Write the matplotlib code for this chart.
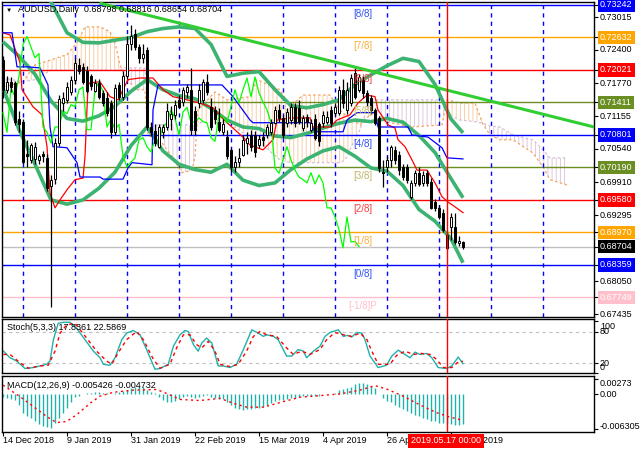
import numpy as np
import matplotlib.pyplot as plt

plt.rcParams['font.family'] = ['Liberation Sans', 'DejaVu Sans']
FS = 6.5

# ---- daily candles, bar 0 = 14 Dec 2018, bar 115 = last bar ----
opens = [.7220, .7165, .7180, .7178, .7110, .7105, .7045, .7033, .7035, .7033,
         .7045, .7037, .6985, .6998, .7065, .7140, .7145, .7160, .7184, .7212,
         .7208, .7200, .7190, .7163, .7178, .7158, .7150, .7140, .7085, .7174,
         .7152, .7190, .7250, .7270, .7245, .7225, .7240, .7095, .7088, .7057,
         .7085, .7095, .7110, .7118, .7146, .7142, .7160, .7165, .7125, .7140,
         .7146, .7180, .7133, .7127, .7105, .7085, .7076, .7052, .7020, .7029,
         .7043, .7065, .7080, .7080, .7062, .7076, .7080, .7086, .7103, .7127,
         .7111, .7103, .7108, .7133, .7130, .7093, .7113, .7090, .7110, .7100,
         .7103, .7105, .7127, .7122, .7122, .7165, .7127, .7140, .7197, .7165,
         .7184, .7159, .7150, .7127, .7112, .7010, .7020, .7033, .7052, .7043,
         .7020, .7020, .6964, .6990, .7009, .6990, .7009, .6992, .6954, .6943,
         .6934, .6892, .6907, .6907, .6877, .68798]
highs = [.7228, .7190, .7188, .7182, .7125, .7110, .7070, .7065, .7066, .7045,
         .7050, .7045, .7005, .7075, .7155, .7160, .7180, .7190, .7225, .7225,
         .7215, .7210, .7195, .7185, .7185, .7165, .7160, .7145, .7175, .7180,
         .7200, .7265, .7287, .7280, .7250, .7250, .7245, .7105, .7100, .7100,
         .7100, .7140, .7135, .7145, .7155, .7170, .7175, .7206, .7135, .7175,
         .7185, .7195, .7150, .7135, .7130, .7110, .7090, .7056, .7040, .7055,
         .7080, .7085, .7090, .7088, .7080, .7085, .7100, .7110, .7135, .7138,
         .7118, .7130, .7140, .7140, .7145, .7118, .7120, .7110, .7120, .7105,
         .7125, .7125, .7135, .7140, .7172, .7185, .7180, .7195, .7208, .7195,
         .7190, .7165, .7155, .7130, .7115, .7033, .7040, .7062, .7060, .7050,
         .7025, .7025, .6995, .7015, .7020, .7012, .7015, .7000, .6960, .6948,
         .6940, .6900, .6934, .6934, .6890, .68816]
lows = [.7150, .7158, .7160, .7098, .7085, .7025, .7020, .7028, .7025, .7025,
        .7030, .6975, .6757, .6988, .7060, .7125, .7140, .7155, .7175, .7195,
        .7175, .7158, .7165, .7160, .7148, .7135, .7115, .7075, .7080, .7145,
        .7145, .7185, .7240, .7240, .7215, .7215, .7090, .7078, .7060, .7055,
        .7075, .7090, .7090, .7110, .7130, .7135, .7150, .7080, .7080, .7130,
        .7140, .7155, .7090, .7100, .7085, .7080, .7035, .7011, .7010, .7020,
        .7040, .7045, .7050, .7039, .7055, .7060, .7075, .7080, .7100, .7105,
        .7075, .7095, .7100, .7095, .7100, .7088, .7095, .7085, .7070, .7060,
        .7095, .7100, .7095, .7115, .7118, .7130, .7120, .7135, .7148, .7160,
        .7150, .7135, .7120, .7098, .7010, .6982, .7010, .7020, .7025, .7005,
        .6995, .6990, .6960, .6985, .6985, .6985, .6985, .6940, .6938, .6922,
        .6898, .6864, .6883, .6875, .6872, .68654]
closes = [.7165, .7180, .7170, .7105, .7100, .7030, .7040, .7061, .7058, .7040,
          .7040, .6981, .6995, .7065, .7148, .7150, .7170, .7184, .7215, .7200,
          .7180, .7162, .7172, .7178, .7152, .7140, .7122, .7085, .7168, .7152,
          .7190, .7250, .7265, .7245, .7225, .7233, .7095, .7085, .7065, .7095,
          .7095, .7125, .7120, .7137, .7133, .7165, .7170, .7090, .7090, .7165,
          .7180, .7161, .7095, .7110, .7090, .7100, .7040, .7020, .7029, .7037,
          .7071, .7075, .7058, .7048, .7072, .7071, .7095, .7103, .7127, .7112,
          .7080, .7123, .7132, .7103, .7105, .7112, .7105, .7103, .7075, .7068,
          .7118, .7114, .7103, .7133, .7165, .7140, .7165, .7187, .7152, .7189,
          .7159, .7142, .7127, .7103, .7018, .7008, .7033, .7058, .7033, .7014,
          .7001, .6996, .6990, .7009, .6988, .7005, .6990, .6943, .6943, .6926,
          .6902, .6868, .6926, .6879, .6880, .68704]

date_ticks = [0, 16, 32, 48, 64, 80, 96, 112]
date_labels = ["14 Dec 2018", "9 Jan 2019", "31 Jan 2019", "22 Feb 2019",
               "15 Mar 2019", "4 Apr 2019", "26 Apr 2019", "20 May 2019"]
marker_bar = 111          # 2019.05.17
time_lines = [5, 18, 31, 44, 57, 70, 83, 96, 109, 122, 135]

# ---- Bollinger bands (20, 2) ----
bb_x = list(range(0, 113, 4)) + [115]
bb_upper = [.7352, .7370, .7365, .7330, .7272, .7254, .7253, .7258, .7263, .7274,
            .7280, .7283, .7280, .7250, .7190, .7196, .7199, .7165, .7135, .7131,
            .7137, .7146, .7175, .7193, .7210, .7224, .7218, .7175, .7110, .7084]
bb_mid = [.7255, .7228, .7194, .7144, .7111, .7106, .7116, .7134, .7162, .7184,
          .7165, .7154, .7148, .7130, .7108, .7095, .7092, .7078, .7075, .7083,
          .7093, .7102, .7108, .7105, .7111, .7104, .7079, .7047, .6998, .6962]
bb_lower = [.7168, .7090, .7025, .6958, .6950, .6958, .6980, .7010, .7060, .7095,
            .7050, .7025, .7015, .7010, .7025, .6995, .6985, .6990, .7015, .7035,
            .7050, .7058, .7040, .7018, .7012, .6985, .6940, .6918, .6885, .6840]

# ---- Ichimoku ----
tk_x = [0, 1.75, 4.25, 4.75, 7.5, 9.75, 11, 11.75, 13, 14.25, 16, 18, 20, 20.5, 21.25,
        21.75, 24.25, 26.75, 28.75, 31.25, 34.25, 37.5, 40, 42.5, 46, 49.25, 52.5, 56,
        60, 61.75, 65, 67.5, 68.5, 71.75, 76.75, 77.5, 81.75, 83.5, 86.75, 88.75, 91,
        93, 93.75, 96.25, 98, 98.75, 100.5, 102.25, 103.5, 106, 108, 109.75, 111.25,
        113, 115]
tenkan = [.7272, .7268, .7216, .7165, .7133, .7118, .7058, .6971, .6943, .6958,
          .6977, .6996, .6999, .7039, .7174, .7178, .7180, .7152, .7146, .7184,
          .7187, .7187, .7165, .7152, .7146, .7140, .7131, .7103, .7076, .7061,
          .7052, .7071, .7108, .7112, .7112, .7095, .7095, .7108, .7118, .7140,
          .7155, .7152, .7127, .7099, .7093, .7071, .7058, .7033, .7014, .7014,
          .6990, .6964, .6954, .6945, .6934]
kj_x = [0, 2.25, 3.5, 6, 9.25, 11.25, 11.75, 12.5, 16, 18.5, 19.25, 24.25, 25, 30,
        31.25, 32.25, 37.25, 37.5, 38.75, 54.75, 57.5, 61.75, 62.5, 76.75, 78, 85, 86,
        88.5, 93, 93.75, 101.25, 102.25, 106.25, 109.75, 111, 115]
kijun = [.7272, .7272, .7208, .7208, .7206, .7174, .7095, .7058, .7056, .7028,
         .7001, .7001, .6997, .6997, .7018, .7028, .7024, .7127, .7174, .7174,
         .7152, .7108, .7103, .7103, .7086, .7086, .7108, .7122, .7122, .7095,
         .7095, .7080, .7076, .7056, .7037, .7035]
cloud_x = [0, 5, 8, 12, 16, 18.5, 20.5, 24.25, 26.75, 28, 29.25, 30, 33, 35.5, 36.25,
           39.75, 42.25, 44.75, 47.25, 48, 48.75, 53, 56, 61.75, 63.5, 69.25, 71.75,
           75, 81.75, 84.25, 85.5, 89.25, 91.75, 93, 95.5, 102.25, 109.75, 111,
           114.25, 118, 120, 121.75, 124.25, 127.5, 132.5, 135, 136.75, 141]
span_a = [.7170, .7180, .7212, .7221, .7231, .7253, .7283, .7283, .7274, .7253,
          .7212, .7199, .7165, .7165, .7080, .7065, .7039, .7009, .7014, .7039,
          .7127, .7161, .7146, .7152, .7184, .7165, .7133, .7155, .7155, .7127,
          .7118, .7099, .7118, .7122, .7105, .7095, .7099, .7146, .7140, .7140,
          .7100, .7080, .7071, .7071, .7046, .7020, .6996, .6986]
span_b = [.7187, .7180, .7184, .7202, .7202, .7202, .7202, .7202, .7202, .7202,
          .7202, .7206, .7206, .7206, .7099, .7099, .7099, .7099, .7099, .7099,
          .7103, .7103, .7103, .7076, .7071, .7033, .7028, .7028, .7028, .7028,
          .7033, .7090, .7146, .7146, .7146, .7146, .7146, .7118, .7108, .7105,
          .7102, .7097, .7095, .7080, .7071, .7052, .7037, .7037]
chikou_shift = 26

# ---- trend line and Murrey Math levels ----
trend_x = [24.5, 147.75]
trend_y = [.7327, .7095]
mm_levels = [0.73242, 0.72632, 0.72021, 0.71411, 0.70801, 0.70190, 0.69580,
             0.68970, 0.68359, 0.67749]
mm_names = ['[8/8]', '[7/8]', '[6/8]', '[5/8]', '[4/8]', '[3/8]', '[2/8]',
            '[1/8]', '[0/8]', '[-1/8]P']
mm_colors = ['#0000FF', '#FFA500', '#FF0000', '#6B8E23', '#0000FF', '#6B8E23',
             '#FF0000', '#FFA500', '#0000FF', '#FFC0CB']
mm_text_colors = ['#3050F0', '#F5B041', '#F04040', '#C8C060', '#3050F0', '#BDB76B',
                  '#F04040', '#F5B041', '#3050F0', '#FFC0CB']
last_price = 0.68704
price_ticks = [0.73015, 0.72400, 0.71770, 0.71155, 0.70540, 0.69910, 0.69295,
               0.68050, 0.67435]

# ---- Stochastic (5,3,3) ----
st_main_x = [0.1, 1.75, 3.4, 5.5, 7.6, 10.9, 11.75, 12.6, 13.8, 15.1, 16.75, 18.4, 20.5,
             22.6, 24.25, 25.1, 26.75, 28, 29.7, 30.9, 32.6, 34.25, 35.9, 38, 39.25,
             41.3, 42.6, 44.25, 45.5, 46.3, 47.6, 48.8, 49.7, 50.9, 52.2, 53.8, 55.1,
             56.75, 58.4, 60.1, 62.2, 63.8, 65.1, 65.9, 67.6, 68.8, 70.9, 72.2, 73.8,
             75.1, 75.9, 77.6, 79.25, 80.5, 81.75, 83.8, 85.1, 86.1, 87.2, 88.4, 89.7,
             90.5, 91.75, 93.8, 95.9, 97.2, 98.8, 100.1, 101.75, 103, 104.25, 105.9,
             107.2, 108.8, 110.9, 112.2, 113.8, 115]
st_main = [42.1, 29.4, 23.1, 8.6, 10.5, 16.8, 23.1, 64.2, 95.9, 97.8, 97.8, 86.4, 64.2,
           42.1, 29.4, 16.8, 14.9, 29.4, 64.2, 76.9, 81.9, 73.7, 45.3, 7.3, 8.6, 16.8,
           51.6, 73.7, 81.9, 80.0, 54.7, 42.1, 57.9, 67.4, 57.9, 13.6, 13.6, 10.5,
           16.8, 45.3, 83.2, 76.9, 70.6, 73.7, 70.6, 64.2, 32.6, 32.6, 45.3, 42.1,
           29.4, 42.1, 51.6, 70.6, 78.1, 83.2, 70.6, 72.5, 69.3, 78.1, 76.9, 64.2,
           32.6, 10.5, 14.9, 32.6, 44.0, 37.7, 29.4, 40.2, 35.8, 37.7, 29.4, 10.5,
           8.6, 13.6, 30.7, 17.8]
st_sig_x = [0.1, 1.75, 4.25, 6.3, 9.25, 11.3, 13, 14.25, 15.9, 18, 20.9, 23.4, 25.9,
            27.2, 28.8, 30.9, 33.4, 35.1, 37.6, 39.25, 41.75, 43.4, 45.1, 46.75, 48.4,
            49.7, 51.3, 53, 54.25, 56.75, 58.8, 60.9, 62.6, 64.25, 65.9, 68.4, 70.9,
            72.6, 74.7, 76.75, 79.25, 80.9, 83, 85.1, 87.2, 89.25, 91, 92.2, 93.8,
            96.75, 98.4, 100.5, 102.6, 104.7, 106.75, 108.4, 110.1, 112.2, 113.8, 115]
st_signal = [35.8, 35.8, 19.9, 9.2, 13.6, 14.9, 42.1, 76.9, 92.7, 95.9, 67.4, 42.1,
             23.1, 16.8, 38.9, 64.2, 80.0, 64.2, 26.3, 9.2, 16.8, 48.4, 73.7, 73.7,
             54.7, 48.4, 61.1, 42.1, 16.8, 12.4, 16.8, 42.1, 70.6, 80.0, 73.7, 70.6,
             48.4, 35.8, 42.1, 35.8, 45.3, 64.2, 78.1, 73.7, 70.6, 76.9, 64.2, 42.1,
             16.8, 16.8, 33.9, 42.1, 35.8, 37.7, 35.8, 26.3, 10.5, 10.5, 21.2, 22.6]

# ---- MACD (12,26,9) ----
macd_main = [-0.0004, -0.0007, -0.0009, -0.0010, -0.0019, -0.0034, -0.0039, -0.0043,
             -0.0049, -0.0054, -0.0057, -0.0060, -0.0061, -0.0052, -0.0043, -0.0034,
             -0.0025, -0.0013, -0.0005, -0.0003, 0.0001, 0.0002, 0.0003, 0.0004,
             0.0004, 0.0003, 0.0002, 0.0001, 0.0003, 0.0004, 0.0006, 0.0009, 0.0012,
             0.0014, 0.0014, 0.0013, 0.0008, 0.0005, 0.0002, -0.0004, -0.0010, -0.0014,
             -0.0013, -0.0011, -0.0008, -0.0005, -0.0003, -0.0005, -0.0006, -0.0004,
             -0.0002, -0.0001, -0.0004, -0.0006, -0.0008, -0.0009, -0.0014, -0.0020,
             -0.0025, -0.0027, -0.0028, -0.0027, -0.0026, -0.0025, -0.0024, -0.0022,
             -0.0019, -0.0016, -0.0012, -0.0010, -0.0010, -0.0008, -0.0006, -0.0006,
             -0.0005, -0.0003, -0.0003, -0.0002, -0.0003, -0.0003, 0.0000, 0.0001,
             0.0001, 0.0003, 0.0008, 0.0010, 0.0011, 0.0014, 0.0019, 0.0020, 0.0020,
             0.0019, 0.0016, 0.0011, 0.0000, -0.0007, -0.0012, -0.0014, -0.0019,
             -0.0023, -0.0027, -0.0030, -0.0034, -0.0037, -0.0040, -0.0043, -0.0045,
             -0.0048, -0.0049, -0.0051, -0.0052, -0.0054, -0.0054, -0.0055, -0.0055,
             -0.0054]
mc_sig_x = [0, 4.25, 7.6, 10.9, 13.4, 15.9, 18.4, 21.75, 24.25, 27.6, 32.6, 38.4, 40.9,
            44.25, 49.25, 54.25, 57.6, 60.9, 65.1, 70.1, 74.25, 79.25, 84.25, 89.25,
            93, 95.9, 100, 104.25, 108.4, 111.2, 115]
macd_signal = [0.0017, -0.0004, -0.0022, -0.0040, -0.0051, -0.0049, -0.0037, -0.0016,
               -0.0003, 0.0004, 0.0008, 0.0009, 0.0002, -0.0009, -0.0011, -0.0007,
               -0.0016, -0.0023, -0.0023, -0.0013, -0.0005, -0.0002, 0.0001, 0.0008,
               0.0016, 0.0010, -0.0003, -0.0019, -0.0033, -0.0040, -0.0047]

# ------------------------------------------------------------------
W, H = 640, 453
fig = plt.figure(figsize=(W / 100, H / 100), dpi=100)
fig.patch.set_facecolor('white')


def px_axes(left, top, right, bottom):
    return fig.add_axes([left / W, 1 - bottom / H, (right - left) / W, (bottom - top) / H])


def fig_text(x, y, s, **kw):
    fig.text(x / W, 1 - y / H, s, **kw)


ax = px_axes(2, 2, 594, 317)
ax_st = px_axes(2, 319, 594, 373)
ax_m = px_axes(2, 376, 594, 432)

for a in (ax, ax_st, ax_m):
    a.set_xlim(-0.25, 147.75)
    for s in a.spines.values():
        s.set_color('black')
        s.set_linewidth(1)
    a.yaxis.tick_right()
    a.tick_params(axis='y', length=3, width=0.8, labelright=False, direction='out')
    a.tick_params(axis='x', length=0, labelbottom=False)

ax.set_ylim(0.67380, 0.73298)
ax_st.set_ylim(1.6, 104.1)
ax_m.set_ylim(-0.00682, 0.00336)

# cloud (hatched like MT4's dotted kumo)
sa = np.array(span_a)
sb = np.array(span_b)
plt.rcParams['hatch.linewidth'] = 0.7
ax.fill_between(cloud_x, sa, sb, where=sa >= sb, interpolate=True, facecolor='none',
                edgecolor='#F4A460', hatch='||||', linewidth=0, alpha=0.55, zorder=1)
ax.fill_between(cloud_x, sa, sb, where=sa < sb, interpolate=True, facecolor='none',
                edgecolor='#D8BFD8', hatch='||||', linewidth=0, alpha=0.85, zorder=1)
ax.plot(cloud_x, span_a, color='#F4A460', lw=0.9, ls=(0, (2, 2)), zorder=1)
ax.plot(cloud_x, span_b, color='#D8BFD8', lw=0.9, ls=(0, (2, 2)), zorder=1)

# Murrey lines
for lvl, col in zip(mm_levels, mm_colors):
    ax.axhline(lvl, color=col, lw=1, zorder=2)
ax.axhline(last_price, color='#C0C0C0', lw=1, zorder=2)

for t in time_lines:
    ax.axvline(t, color='#0000FF', lw=1, ls=(0, (3, 3)), zorder=2)

# Bollinger
for band in (bb_upper, bb_mid, bb_lower):
    ax.plot(bb_x, band, color='#3CB371', lw=2.6, zorder=3, solid_capstyle='butt')

# Ichimoku lines
idx = np.arange(len(closes))
ax.plot(tk_x, tenkan, color='red', lw=0.9, zorder=3)
ax.plot(kj_x, kijun, color='blue', lw=0.9, zorder=3)
ax.plot(idx[chikou_shift:] - chikou_shift, closes[chikou_shift:], color='#00FF00',
        lw=0.9, zorder=3)

# candles
o = np.array(opens)
c = np.array(closes)
ax.vlines(idx, lows, highs, color='black', lw=0.9, zorder=5)
ax.bar(idx, np.maximum(np.abs(c - o), 0.00008), bottom=np.minimum(o, c), width=0.65,
       color=np.where(c >= o, 'white', 'black'), edgecolor='black', lw=0.7, zorder=6)

# trend line
ax.plot(trend_x, trend_y, color='#32CD32', lw=2.2, zorder=7)

# Murrey labels
for lvl, name, tc in zip(mm_levels, mm_names, mm_text_colors):
    ax.annotate(name, (90, lvl), xytext=(0, -6.2), textcoords='offset points',
                ha='center', va='center', fontsize=FS + 0.5, color=tc, zorder=8)

# red date marker
for a in (ax, ax_st, ax_m):
    a.axvline(marker_bar, color='red', lw=1, zorder=9)

# right price labels
ytr = ax.get_yaxis_transform()
lab_x = (600 - 2) / 592
ax.set_yticks(price_ticks + mm_levels + [last_price])
for p in price_ticks:
    ax.text(lab_x, p, f'{p:.5f}', transform=ytr, ha='left', va='center', fontsize=FS,
            color='black', clip_on=False)
for p, col in zip(mm_levels + [last_price], mm_colors + ['black']):
    ax.text(lab_x, p, f'{p:.5f}', transform=ytr, ha='left', va='center', fontsize=FS,
            color='white', clip_on=False,
            bbox=dict(boxstyle='square,pad=0.25', fc=col, ec='none'))

# stochastic
ax_st.axhline(80, color='#C0C0C0', lw=0.8, ls=(0, (3, 3)))
ax_st.axhline(20, color='#C0C0C0', lw=0.8, ls=(0, (3, 3)))
ax_st.plot(st_main_x, st_main, color='#20B2AA', lw=1)
ax_st.plot(st_sig_x, st_signal, color='red', lw=1, ls=(0, (2.5, 2.5)))
ax_st.set_yticks([0, 20, 80, 100])
for s, fy in (('100', 0.87), ('80', 0.777), ('20', 0.185), ('0', 0.093)):
    ax_st.text(lab_x, fy, s, transform=ax_st.transAxes, ha='left', va='center',
               fontsize=FS, clip_on=False)

# MACD
ax_m.vlines(idx, 0, macd_main, color='#20B2AA', lw=1)
ax_m.plot(mc_sig_x, macd_signal, color='red', lw=1, ls=(0, (1.5, 2.5)))
ax_m.set_yticks([0.00273, 0.0, -0.006305])
for s, fy in (('0.00273', 0.87), ('0.00', 0.67), ('-0.006305', 0.107)):
    ax_m.text(lab_x, fy, s, transform=ax_m.transAxes, ha='left', va='center',
              fontsize=FS, clip_on=False)

# dates
ax_m.set_xticks(date_ticks)
ax_m.tick_params(axis='x', length=3, width=0.8, direction='out')
xtr = ax_m.get_xaxis_transform()
for t, lab in zip(date_ticks, date_labels):
    ax_m.text(t, -0.16, lab, transform=xtr, ha='left', va='center', fontsize=FS,
              clip_on=False)
ax_m.text(marker_bar - 0.2, -0.16, '2019.05.17 00:00', transform=xtr, ha='center',
          va='center', fontsize=FS, color='white', clip_on=False, zorder=10,
          bbox=dict(boxstyle='square,pad=0.3', fc='red', ec='none'))

# headers
fig_text(6, 10, '\u25BC', fontsize=4.5, va='center', ha='left')
fig_text(18, 10, 'AUDUSD,Daily  0.68798 0.68816 0.68654 0.68704', fontsize=FS,
         va='center', ha='left')
fig_text(7, 327, 'Stoch(5,3,3) 17.8361 22.5869', fontsize=FS, va='center', ha='left')
fig_text(7, 386, 'MACD(12,26,9) -0.005426 -0.004732', fontsize=FS, va='center',
         ha='left')

fig.savefig('out.png', dpi=100)
